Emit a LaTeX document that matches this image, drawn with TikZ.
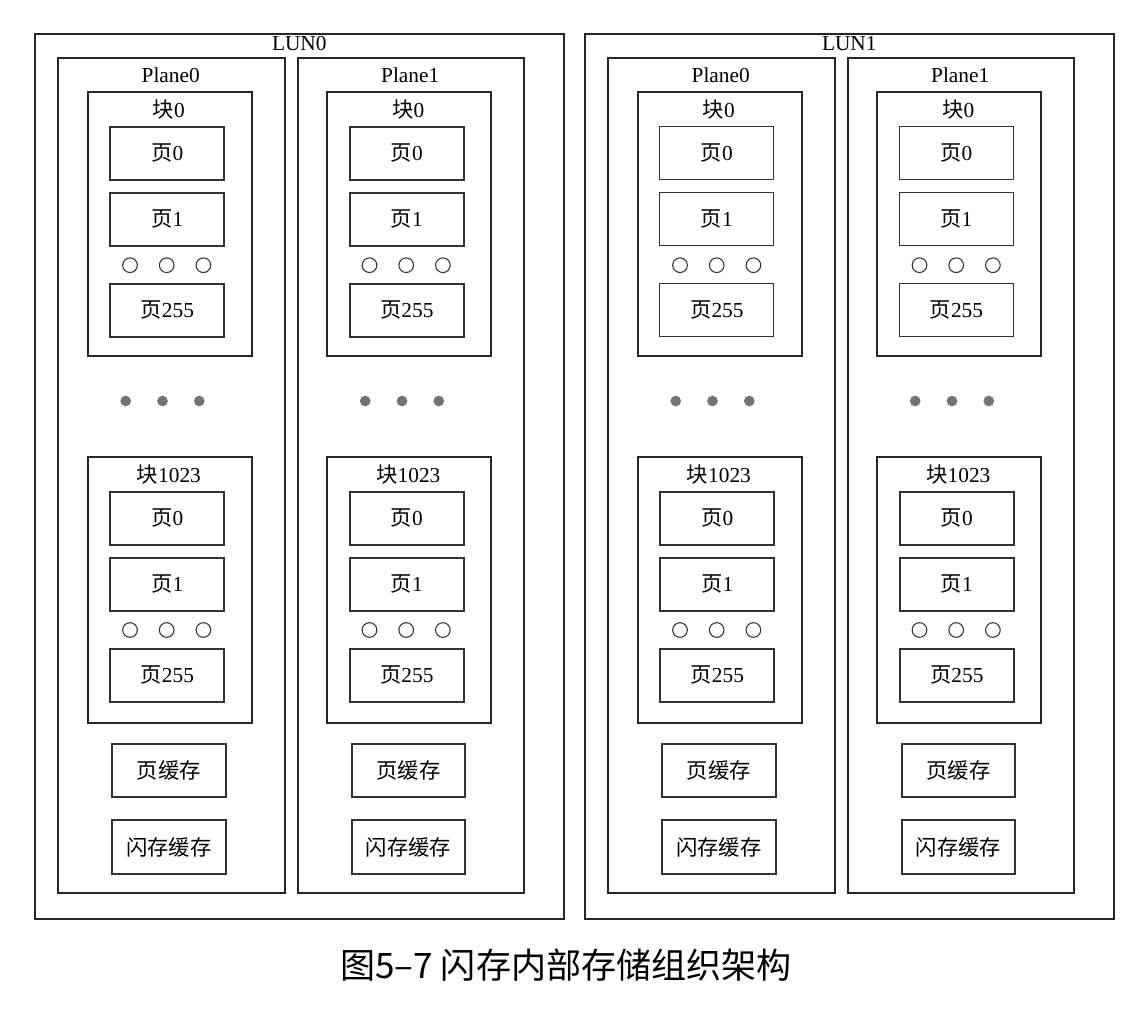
\documentclass[tikz,border=0pt]{standalone}
\usepackage{fontspec}
\setmainfont{Liberation Serif}
\newfontfamily\cjk{Noto Sans CJK SC}
\usetikzlibrary{positioning}
\tikzset{
  lunbox/.style={rectangle, draw=black!85, line width=1.5pt, anchor=north west,
                 minimum width=397pt, minimum height=663.75pt},
  planebox/.style={rectangle, draw=black!85, line width=1.5pt, anchor=north west,
                   minimum width=170pt, minimum height=626.25pt},
  blockbox/.style={rectangle, draw=black!85, line width=1.5pt, anchor=north west,
                   minimum width=123pt},
  pagebox/.style={rectangle, draw=black!80, line width=#1pt, anchor=north west, inner sep=0pt,
                  minimum width=85.5pt, minimum height=40pt, font=\fontsize{16}{18}\selectfont},
  cachebox/.style={pagebox=1.5, minimum width=85pt},
  lbl/.style={inner sep=0pt, font=\fontsize{16}{18}\selectfont},
  hole/.style={circle, draw=black!80, line width=0.8pt, minimum size=11pt, inner sep=0pt},
  gdot/.style={circle, fill=black!55, minimum size=8pt, inner sep=0pt},
}

\begin{document}
\begin{tikzpicture}[x=0.75pt, y=-0.75pt]
\useasboundingbox (0,0) rectangle (1132,1008);
% two LUNs, two planes each
\foreach \lun/\lx/\tw in {0/0/1.5, 1/550/0.8}{
  \node[lunbox] (L\lun) at (34+\lx,33) {};
  \node[lbl] (L\lun-t) at (299.3+\lx,43.5) {LUN\lun};
  \foreach \pl in {0,1}{
    \pgfmathsetmacro\px{57.3+\lx+239.5*\pl}
    \node[planebox] (L\lun-P\pl) at (\px,56.7) {};
    \node[lbl] (L\lun-P\pl-t) at (\px+113.4,75) {Plane\pl};
    % block 0 and block 1023
    \foreach \bk/\by/\bh/\bn in {0/90.7/264.5/0, 1/455.5/266/1023}{
      \pgfmathsetmacro\pw{\bk==0 ? \tw : 1.5}
      \node[blockbox, minimum height=\bh*0.75pt] (L\lun-P\pl-B\bk) at (\px+29.4,\by) {};
      \node[lbl] (L\lun-P\pl-B\bk-t) at (\px+111.6,\by+19.3) {{\cjk 块}\bn};
      \foreach \pg/\py/\pn in {0/35/0, 1/101/1, 2/192/255}
        \node[pagebox=\pw] (L\lun-P\pl-B\bk-p\pg) at (\px+52,\by+\py) {{\cjk 页}\pn};
      \foreach \ci in {-1,0,1}
        \node[hole] (L\lun-P\pl-B\bk-h\ci) at (\px+109.4+36.7*\ci,\by+174.5) {};
    }
    \foreach \dd in {0,1,2}
      \node[gdot] (L\lun-P\pl-d\dd) at (\px+68.4+36.8*\dd,401) {};
    \node[cachebox] (L\lun-P\pl-pc) at (\px+54,742.7) {\cjk 页缓存};
    \node[cachebox] (L\lun-P\pl-fc) at (\px+54,819.3) {\cjk 闪存缓存};
  }
}
\node[inner sep=0pt, font={\cjk\fontsize{26.3}{28}\selectfont}] (cap) at (566,965) {图5–7 闪存内部存储组织架构};
\end{tikzpicture}
\end{document}
